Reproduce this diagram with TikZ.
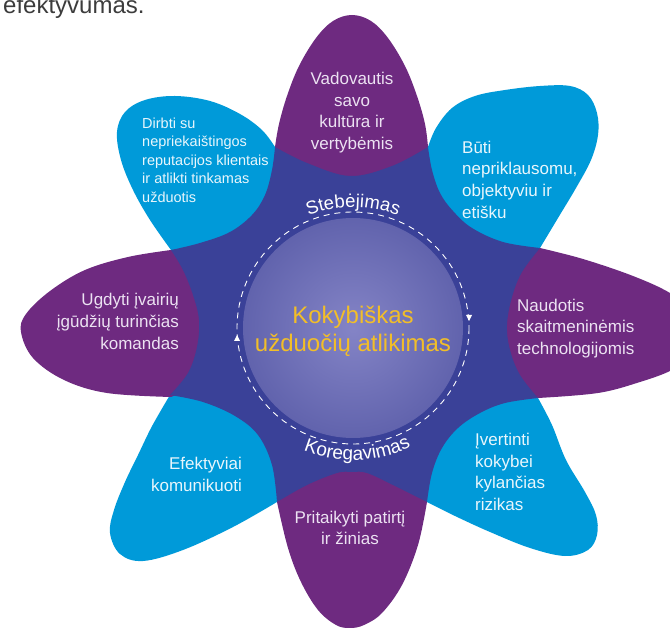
\documentclass[tikz,border=0pt]{standalone}
\usepackage{fontspec}
\setmainfont{Liberation Sans}
\usetikzlibrary{decorations.text}
\definecolor{purp}{RGB}{110,42,128}
\definecolor{blu}{RGB}{0,154,217}
\definecolor{darkc}{RGB}{58,65,152}
\definecolor{glowin}{RGB}{132,132,198}
\definecolor{glowout}{RGB}{62,66,148}
\definecolor{gold}{RGB}{242,190,40}
\definecolor{topgray}{RGB}{60,60,60}
\definecolor{ptxt}{RGB}{236,226,242}
\definecolor{btxt}{RGB}{232,246,252}
\pgfdeclareradialshading{glow}{\pgfpointorigin}{color(0bp)=(glowin); color(50bp)=(glowout)}
\begin{document}
\begin{tikzpicture}[x=1pt,y=-1pt,
  ptext/.style={text=ptxt, font=\fontsize{17pt}{21.7pt}\selectfont, inner sep=0pt},
  btext/.style={text=btxt, font=\fontsize{17pt}{21.7pt}\selectfont, inner sep=0pt},
  ring/.style={white, line width=0.9pt, dash pattern=on 6pt off 5pt}]
\useasboundingbox (0,0) rectangle (670,628);
\coordinate (C) at (352,324);
\coordinate (R) at (353,328);
% blue petals
\fill[blu] plot[smooth, tension=0.6] coordinates {(171,250) (150,220) (133,190) (121,160) (117,132) (125,112) (145,100) (175,96) (210,101) (240,114) (262,130) (275,147)} -- (C) -- cycle;
\fill[blu] plot[smooth, tension=0.6] coordinates {(428,147) (436,128) (452,108) (475,96) (505,90) (540,86) (570,86) (588,95) (597,113) (598,135) (591,160) (576,188) (558,218) (540,248)} -- (C) -- cycle;
\fill[blu] plot[smooth, tension=0.6] coordinates {(538,398) (552,425) (566,460) (585,492) (596,515) (597,535) (588,550) (565,556) (530,548) (490,532) (455,516) (427,502)} -- (C) -- cycle;
\fill[blu] plot[smooth, tension=0.6] coordinates {(277,502) (233,527) (183,550) (143,561) (120,554) (110,533) (114,510) (125,482) (138,455) (150,430) (160,412) (170,395)} -- (C) -- cycle;
% purple petals
\fill[purp] plot[smooth, tension=0.6] coordinates {(275,147) (279,124) (287,96) (299,66) (316,38) (333,21) (352,15) (371,21) (388,38) (405,66) (417,96) (425,124) (428,147)} -- (C) -- cycle;
\fill[purp] plot[smooth, tension=0.6] coordinates {(540,248) (583,259) (633,276) (670,293) (695,313) (704,333) (697,353) (672,370) (640,382) (598,393) (538,398)} -- (C) -- cycle;
\fill[purp] plot[smooth, tension=0.6] coordinates {(427,502) (418,545) (402,585) (382,613) (364,625) (350,628) (336,625) (318,610) (301,582) (288,548) (277,502)} -- (C) -- cycle;
\fill[purp] plot[smooth, tension=0.6] coordinates {(171,397) (107,393) (64,380) (33,358) (21,332) (26,314) (50,291) (85,270) (128,257) (171,250)} -- (C) -- cycle;
% dark centre (overlap of petals)
\fill[darkc] plot[smooth, tension=0.6] coordinates {(275,147) (307,163) (350,176) (392,166) (428,147)}
  -- plot[smooth, tension=0.6] coordinates {(428,147) (432,170) (440,193) (453,211) (472,228) (503,242) (540,248)}
  -- plot[smooth, tension=0.6] coordinates {(540,248) (522,272) (512,297) (507,325) (510,350) (520,375) (538,398)}
  -- plot[smooth, tension=0.6] coordinates {(538,398) (505,403) (480,413) (458,428) (442,448) (432,473) (427,502)}
  -- plot[smooth, tension=0.6] coordinates {(427,502) (393,485) (367,473) (352,472) (337,473) (307,485) (277,502)}
  -- plot[smooth, tension=0.6] coordinates {(277,502) (272,465) (258,435) (235,416) (203,402) (170,395)}
  -- plot[smooth, tension=0.6] coordinates {(170,395) (188,373) (197,347) (199,320) (193,295) (183,270) (171,250)}
  -- plot[smooth, tension=0.6] coordinates {(171,250) (200,243) (230,232) (252,215) (265,195) (272,170) (275,147)}
  -- cycle;
% central disc
\shade[shading=glow] (R) circle[radius=110];
\draw[ring] (R) circle[radius=116];
\fill[white] (466,315) -- (472,315) -- (469,321) -- cycle;
\fill[white] (234,341) -- (240,341) -- (237,335) -- cycle;
% arc labels
\path[decorate, decoration={text along path, text color=white, text align=center,
   text={|\fontsize{18.5pt}{18.5pt}\selectfont|Stebėjimas}}]
   (R) ++(-132:121) arc[start angle=-132, end angle=-48, radius=121];
\path[decorate, decoration={text along path, text color=white, text align=center,
   text={|\fontsize{19pt}{19pt}\selectfont|Koregavimas}}]
   (R) ++(146:132) arc[start angle=146, end angle=30, radius=132];
% texts
\node[ptext, align=center] (t1) at (352,112.5) {Vadovautis\\savo\\kultūra ir\\vertybėmis};
\node[btext, align=left, anchor=west] (t2) at (462,179.5) {Būti\\nepriklausomu,\\objektyviu ir\\etišku};
\node[ptext, align=left, anchor=west] (t3) at (517,328.5) {Naudotis\\skaitmeninėmis\\technologijomis};
\node[btext, align=left, anchor=west] (t4) at (475,472) {Įvertinti\\kokybei\\kylančias\\rizikas};
\node[ptext, align=center] (t5) at (350,528) {Pritaikyti patirtį\\ir žinias};
\node[btext, align=right, anchor=east] (t6) at (242,474.5) {Efektyviai\\komunikuoti};
\node[ptext, align=right, anchor=east] (t7) at (179,321.5) {Ugdyti įvairių\\įgūdžių turinčias\\komandas};
\node[btext, align=left, anchor=west, font=\fontsize{14.5pt}{18.5pt}\selectfont] (t8) at (142,160) {Dirbti su\\nepriekaištingos\\reputacijos klientais\\ir atlikti tinkamas\\užduotis};
\node[text=gold, align=center, inner sep=0pt, font=\fontsize{24pt}{28pt}\selectfont] (ctr) at (353,331) {Kokybiškas\\užduočių atlikimas};
\node[anchor=base west, text=topgray, inner sep=0pt, font=\fontsize{24pt}{28pt}\selectfont] (top) at (3,14) {efektyvumas.};
\end{tikzpicture}
\end{document}
